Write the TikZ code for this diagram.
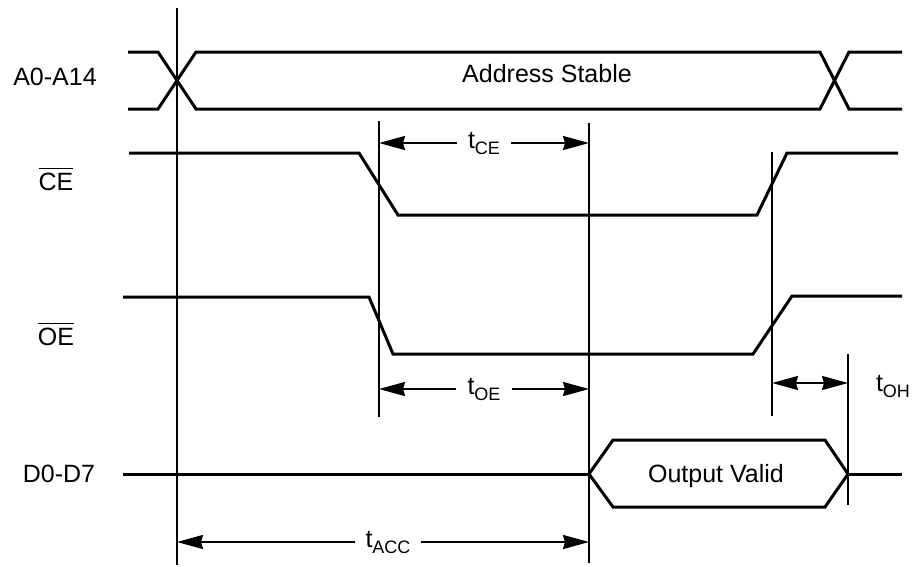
\documentclass[tikz,border=0pt]{standalone}
\usepackage{fontspec}
\setmainfont{Liberation Sans}
\usetikzlibrary{arrows.meta}
\newcommand\tsubx[1]{t\raisebox{-6pt}{\fontsize{18}{18}\selectfont #1}}
\newcommand\ovlx[1]{\vbox{\hrule height 1.6pt \kern 3.2pt \hbox{#1}}}
\begin{document}
\begin{tikzpicture}[x=1pt,y=-1pt,
  sig/.style={line width=3pt, line join=miter},
  vline/.style={line width=2.2pt},
  dimarrow/.style={line width=2pt, -{Stealth[length=26pt,width=14pt,inset=2pt]}},
  dimboth/.style={line width=2pt, {Stealth[length=26pt,width=14pt,inset=2pt]}-{Stealth[length=26pt,width=14pt,inset=2pt]}},
  lbl/.style={font=\fontsize{25}{29}\selectfont, inner sep=0pt},
  tlbl/.style={font=\fontsize{25}{29}\selectfont, inner ysep=0pt, inner xsep=11pt}
]
\useasboundingbox (0,0) rectangle (917,566);

% vertical reference lines
\coordinate (v0t) at (177,8);   \coordinate (v0b) at (177,565);
\coordinate (v1t) at (379,121); \coordinate (v1b) at (379,417);
\coordinate (v2t) at (589,123); \coordinate (v2b) at (589,563);
\coordinate (v3t) at (772,152); \coordinate (v3b) at (772,416);
\coordinate (v4t) at (848,354); \coordinate (v4b) at (848,505);
\draw[vline] (v0t) -- (v0b);
\draw[vline] (v1t) -- (v1b);
\draw[vline] (v2t) -- (v2b);
\draw[vline] (v3t) -- (v3b);
\draw[vline] (v4t) -- (v4b);

% A0-A14 bus
\draw[sig] (128,52) -- (158,52) -- (196,109) -- (820,109) -- (849,52) -- (902,52);
\draw[sig] (128,109) -- (158,109) -- (196,52) -- (820,52) -- (849,109) -- (902,109);
\node[lbl, anchor=base] (addr) at (547,82) {Address Stable};

% CE
\draw[sig] (129,153) -- (359,153) -- (398,215) -- (757,215) -- (787,153) -- (898,153);
% OE
\draw[sig] (123,297) -- (369,297) -- (393,354) -- (753,354) -- (792,296) -- (902,296);
% D0-D7
\draw[sig] (123,474) -- (589,474);
\draw[sig] (589,474) -- (613,440) -- (825,440) -- (848,474) -- (825,507) -- (613,507) -- cycle;
\draw[sig] (848,474) -- (902,474);
\node[lbl, anchor=base] (outv) at (716,482) {Output Valid};

% signal names
\node[lbl, anchor=base] (na) at (55,85) {A0-A14};
\node[lbl, anchor=base] (nce) at (56,190) {\ovlx{CE}};
\node[lbl, anchor=base] (noe) at (56,345) {\ovlx{OE}};
\node[lbl, anchor=base] (nd) at (59,482) {D0-D7};

% timing labels and arrows
\node[tlbl] (tce) at (484,143) {\tsubx{CE}};
\draw[dimarrow] (tce.west) -- (tce.west -| v1t);
\draw[dimarrow] (tce.east) -- (tce.east -| v2t);

\node[tlbl] (toe) at (484,389) {\tsubx{OE}};
\draw[dimarrow] (toe.west) -- (toe.west -| v1t);
\draw[dimarrow] (toe.east) -- (toe.east -| v2t);

\node[tlbl, inner xsep=10pt] (tacc) at (388,542) {\tsubx{ACC}};
\draw[dimarrow] (tacc.west) -- (tacc.west -| v0t);
\draw[dimarrow] (tacc.east) -- (tacc.east -| v2t);

\coordinate (oh1) at (772,383);
\coordinate (oh2) at (848,383);
\draw[dimboth] (oh1) -- (oh2);
\node[lbl] (toh) at (893,386) {\tsubx{OH}};
\end{tikzpicture}
\end{document}
